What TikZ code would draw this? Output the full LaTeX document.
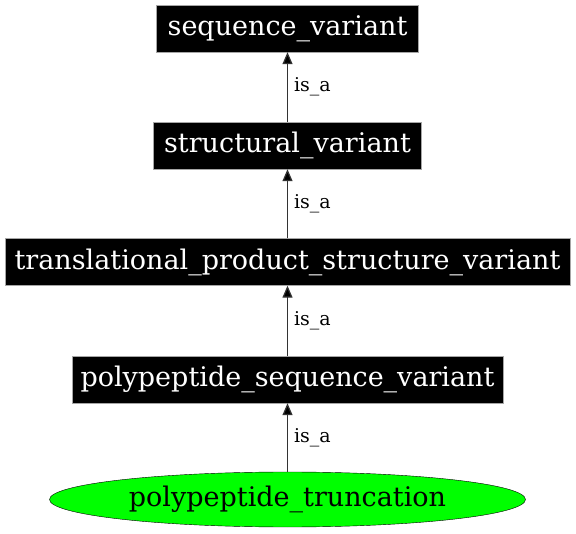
\documentclass[tikz,border=0pt]{standalone}
\usepackage{fontspec}
\setmainfont{DejaVu Serif}
\usetikzlibrary{arrows.meta,shapes.geometric}
\begin{document}
\begin{tikzpicture}[x=1pt,y=-1pt,
  term/.style={draw=gray!70, fill=black, text=white, inner sep=0pt, minimum height=47pt, font=\fontsize{27}{31}\selectfont},
  leaf/.style={ellipse, draw=black, fill=green, inner sep=0pt, minimum height=55pt, minimum width=476pt, font=\fontsize{27}{31}\selectfont},
  isa/.style={draw=black!80, line width=1.2pt, -{Triangle[length=12pt,width=10pt,fill=black]}},
  lbl/.style={font=\fontsize{19}{21}\selectfont, anchor=west, inner sep=0pt}
]
\useasboundingbox (0,0) rectangle (576,534);
\node[term, minimum width=262pt] (sv) at (287.5,28.5) {sequence\_variant};
\node[term, minimum width=268pt] (stv) at (287.5,145.5) {structural\_variant};
\node[term, minimum width=565pt] (tpsv) at (287.5,262) {translational\_product\_structure\_variant};
\node[term, minimum width=431pt] (psv) at (287.5,379.5) {polypeptide\_sequence\_variant};
\node[leaf] (pt) at (287.5,499.5) {polypeptide\_truncation};
\draw[isa] (stv) -- node[lbl, xshift=6pt] {is\_a} (sv);
\draw[isa] (tpsv) -- node[lbl, xshift=6pt] {is\_a} (stv);
\draw[isa] (psv) -- node[lbl, xshift=6pt] {is\_a} (tpsv);
\draw[isa] (pt) -- node[lbl, xshift=6pt] {is\_a} (psv);
\end{tikzpicture}
\end{document}
